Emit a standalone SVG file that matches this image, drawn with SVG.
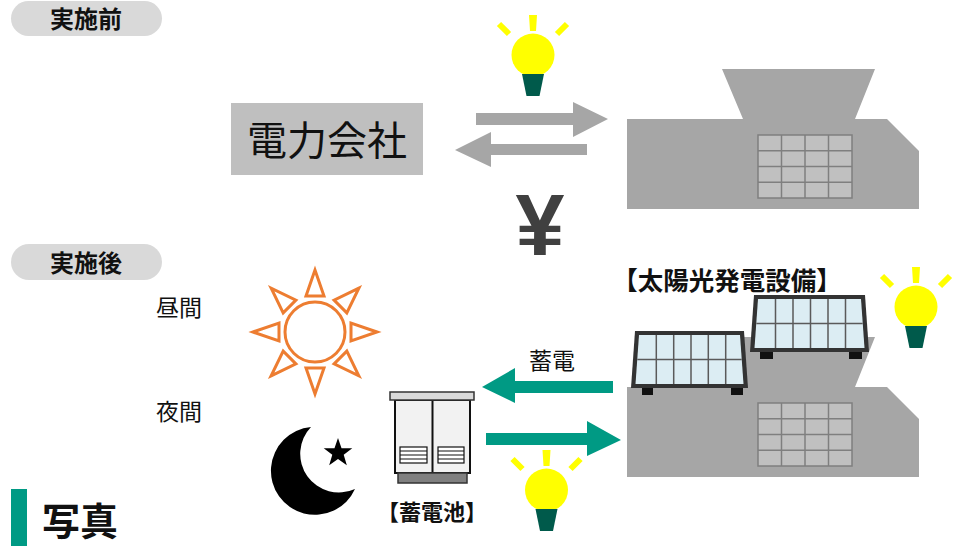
<svg xmlns="http://www.w3.org/2000/svg" xmlns:xlink="http://www.w3.org/1999/xlink" width="966" height="546" viewBox="0 0 966 546">
  <style>
    .jp { font-family: "Noto Sans CJK JP", "Noto Sans", sans-serif; fill: #111; }
    .b { font-weight: bold; }
    .pill { fill: #d9d9d9; }
    .gray-arrow { fill: #a6a6a6; }
    .green-arrow { fill: #009a84; }
    .bldg { fill: #a6a6a6; }
    .win { fill: #c0c0c0; stroke: #7f7f7f; stroke-width: 1.5; }
    .sun { fill: #fff; stroke: #ed7d31; stroke-width: 3; stroke-linejoin: miter; }
    .frame { fill: #333; }
    .cells { fill: #dcedf3; }
    .cellgrid { stroke: #5a5a5a; stroke-width: 1.5; fill: none; }
    .foot { fill: #111; }
  </style>
  <defs>
    <!-- light bulb, origin at the centre of the glass -->
    <g id="bulb">
      <polygon points="-4,-40 4,-40 3,-24 -3,-24" fill="#ffff00"/>
      <line x1="-34" y1="-31" x2="-24" y2="-21" stroke="#ffff00" stroke-width="6"/>
      <line x1="34" y1="-31" x2="24" y2="-21" stroke="#ffff00" stroke-width="6"/>
      <circle r="21.5" fill="#ffff00"/>
      <polygon points="-11,19 11,19 6.5,41 -6.5,41" fill="#005a4b"/>
    </g>
    <!-- factory building with window grid -->
    <g id="building">
      <polygon class="bldg" points="627,119 743,119 722,69 875,69 855,119 887,119 919,151 919,209 627,209"/>
      <rect class="win" x="758" y="135" width="94" height="63"/>
      <path class="win" fill="none" d="M781.5,135V198M805,135V198M828.5,135V198M758,150.75H852M758,166.5H852M758,182.25H852"/>
    </g>
    <polygon id="ray" points="0,-62 -9,-36 9,-36"/>
  </defs>

  <!-- section labels -->
  <g id="label-before">
    <rect class="pill" x="11" y="1" width="151" height="35" rx="17.5"/>
    <text class="jp b" x="86" y="27.5" font-size="24" text-anchor="middle">実施前</text>
  </g>
  <g id="label-after">
    <rect class="pill" x="11" y="244" width="151" height="36" rx="18"/>
    <text class="jp b" x="86" y="271.5" font-size="24" text-anchor="middle">実施後</text>
  </g>

  <!-- before: utility and factory -->
  <g id="power-company">
    <rect x="231" y="103" width="192" height="72" fill="#bfbfbf"/>
    <text class="jp" x="327" y="155" font-size="40" text-anchor="middle">電力会社</text>
  </g>
  <g id="factory-before">
    <use xlink:href="#building"/>
  </g>
  <g id="bulb-before">
    <use xlink:href="#bulb" x="533" y="55"/>
  </g>
  <g id="yen">
    <text x="540" y="255" font-family="Liberation Sans, Arial, sans-serif" font-weight="bold" font-size="88" fill="#404040" text-anchor="middle">¥</text>
  </g>

  <!-- after: day / night -->
  <g id="daytime">
    <text class="jp" x="156" y="316" font-size="23">昼間</text>
  </g>
  <g id="nighttime">
    <text class="jp" x="156" y="420" font-size="23">夜間</text>
  </g>
  <g id="sun">
    <g transform="translate(315,332)">
      <use class="sun" xlink:href="#ray"/>
      <use class="sun" xlink:href="#ray" transform="rotate(45)"/>
      <use class="sun" xlink:href="#ray" transform="rotate(90)"/>
      <use class="sun" xlink:href="#ray" transform="rotate(135)"/>
      <use class="sun" xlink:href="#ray" transform="rotate(180)"/>
      <use class="sun" xlink:href="#ray" transform="rotate(225)"/>
      <use class="sun" xlink:href="#ray" transform="rotate(270)"/>
      <use class="sun" xlink:href="#ray" transform="rotate(315)"/>
      <circle class="sun" r="30"/>
    </g>
  </g>
  <g id="moon">
    <path d="M311,427 A44,44 0 1 0 355,489 A38.7,38.7 0 0 1 311,427 Z" fill="#000"/>
    <polygon transform="translate(338,453)" fill="#000" points="0,-15 3.53,-4.85 14.27,-4.64 5.71,1.85 8.82,12.14 0,6 -8.82,12.14 -5.71,1.85 -14.27,-4.64 -3.53,-4.85"/>
  </g>

  <!-- storage battery -->
  <g id="battery">
    <rect x="395" y="400" width="75" height="73" fill="#f2f2f2" stroke="#111" stroke-width="2"/>
    <line x1="432.5" y1="392" x2="432.5" y2="473" stroke="#111" stroke-width="2"/>
    <rect x="390" y="392" width="84" height="8" fill="#d9d9d9" stroke="#333" stroke-width="1.5"/>
    <rect x="398" y="473" width="69" height="10" fill="#808080" stroke="#333" stroke-width="1.5"/>
    <g fill="none" stroke="#111" stroke-width="1.2">
      <rect x="400" y="447" width="27" height="16" fill="#fff"/>
      <path d="M400,451H427M400,455H427M400,459H427"/>
      <rect x="438" y="447" width="26" height="16" fill="#fff"/>
      <path d="M438,451H464M438,455H464M438,459H464"/>
    </g>
    <text class="jp b" x="432" y="520" font-size="22" text-anchor="middle">【蓄電池】</text>
  </g>

  <!-- after: factory with solar panels -->
  <g id="factory-after">
    <use xlink:href="#building" transform="translate(0,268)"/>
  </g>
  <g id="solar-panels">
    <rect class="foot" x="642" y="386" width="11" height="9"/>
    <rect class="foot" x="731" y="386" width="12" height="9"/>
    <polygon class="frame" points="635,331 744,331 748,388 631,388"/>
    <polygon class="cells" points="639,335 740,335 743.5,384 635.5,384"/>
    <path class="cellgrid" d="M637.3,359.5H741.7M656.3,335V384M673.7,335V384M691,335V384M708.3,335V384M725.7,335V384"/>
    <rect class="foot" x="760" y="350" width="13" height="9"/>
    <rect class="foot" x="849" y="350" width="13" height="9"/>
    <polygon class="frame" points="754,295 865,295 869,352 750,352"/>
    <polygon class="cells" points="758,299 861,299 864.5,348 754.5,348"/>
    <path class="cellgrid" d="M756.3,323.5H862.7M775.5,299V348M793,299V348M810.5,299V348M828,299V348M845.5,299V348"/>
    <text class="jp b" x="727" y="290" font-size="25.5" text-anchor="middle">【太陽光発電設備】</text>
  </g>
  <g id="bulb-solar">
    <use xlink:href="#bulb" x="916" y="307"/>
  </g>
  <g id="bulb-battery">
    <use xlink:href="#bulb" x="546.5" y="490"/>
  </g>

  <!-- connectors -->
  <g id="connectors">
    <polygon class="gray-arrow" points="476,113 573,113 573,102 608,119 573,137 573,125 476,125"/>
    <polygon class="gray-arrow" points="587,144 491,144 491,132 455,150 491,167 491,155 587,155"/>
    <polygon class="green-arrow" points="613,381 515,381 515,368 482,387 515,403 515,393 613,393"/>
    <polygon class="green-arrow" points="486,433 587,433 587,421 621,440 587,456 587,445 486,445"/>
    <text class="jp" x="552" y="369" font-size="23" text-anchor="middle">蓄電</text>
  </g>

  <!-- heading -->
  <g id="heading">
    <rect x="11" y="489" width="16" height="57" fill="#009a84"/>
    <text class="jp b" x="42" y="535" font-size="38">写真</text>
  </g>
</svg>
